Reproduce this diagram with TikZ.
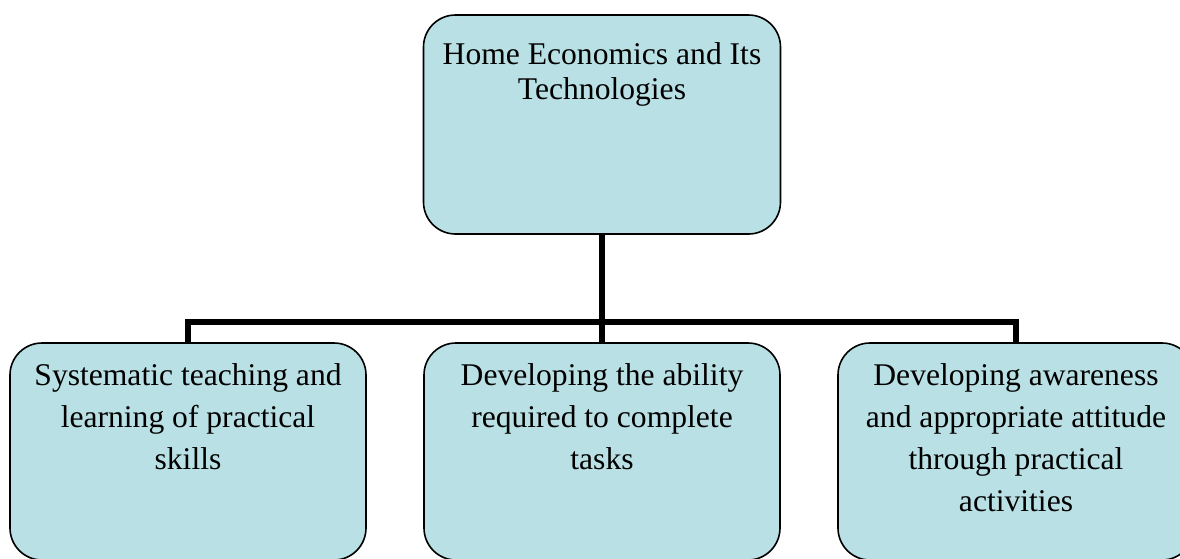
\documentclass[tikz,border=0pt]{standalone}
\usepackage{fontspec}
\setmainfont{Liberation Serif}
\usetikzlibrary{positioning}
\definecolor{HETeal}{HTML}{B9E0E4}

\begin{document}
\begin{tikzpicture}[x=0.5pt,y=-0.5pt,
    box/.style={draw=black,line width=0.8pt,fill=HETeal,rounded corners=16pt,
      minimum width=178pt,minimum height=108.5pt,inner sep=0pt},
    boxtext/.style={align=center,inner sep=0pt,font=\fontsize{15.8}{21}\selectfont},
    link/.style={line width=3pt}]
  \useasboundingbox (0,0) rectangle (1180,558);
  % parent box
  \node[box,minimum height=109.5pt,minimum width=178.5pt] (home) at (602,124.5) {};
  \node[boxtext,font=\fontsize{15.8}{17.5}\selectfont,below=14pt of home.north]
    (homeText) {Home Economics and Its\\Technologies};
  % the three strands
  \node[box] (skills) at (188,451.5) {};
  \node[box] (ability) at (602,451.5) {};
  \node[box] (attitude) at (1016,451.5) {};
  \node[boxtext,below=10.7pt of skills.north] (skillsText)
    {Systematic teaching and\\learning of practical\\skills};
  \node[boxtext,below=10.7pt of ability.north] (abilityText)
    {Developing the ability\\required to complete\\tasks};
  \node[boxtext,below=10.7pt of attitude.north] (attitudeText)
    {Developing awareness\\and appropriate attitude\\through practical\\activities};
  % tree connectors
  \coordinate (bus) at (602,322);
  \draw[link] (home.south) -- (ability.north);
  \draw[link] (skills.north) -- (skills.north |- bus) -- (attitude.north |- bus)
    -- (attitude.north);
\end{tikzpicture}
\end{document}
